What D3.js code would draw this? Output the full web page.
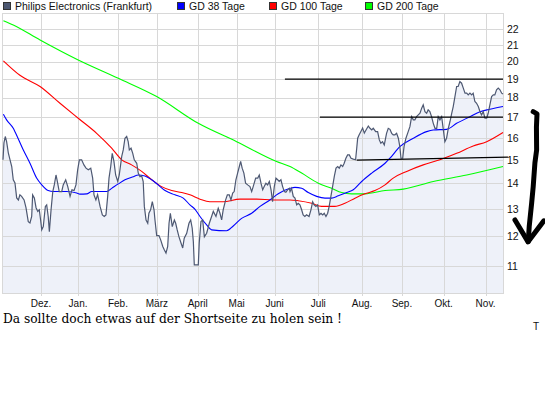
<!DOCTYPE html>
<html>
<head>
<meta charset="utf-8">
<script src="https://cdn.jsdelivr.net/npm/d3@7"></script>
<style>
  body { margin: 0; background: #fff; }
  svg { display: block; }
</style>
</head>
<body>
<div id="chart"></div>
<script>
// x axis = trading day index (0 = start of the window)
const monthDays   = [20, 39.5, 60.5, 81, 102.5, 123, 143, 166, 189, 210, 232, 254];
const monthLabels = ["Dez.", "Jan.", "Feb.", "März", "April", "Mai", "Juni", "Juli", "Aug.", "Sep.", "Okt.", "Nov."];
const yTicks      = [11, 12, 13, 14, 15, 16, 17, 18, 19, 20, 21, 22];

// Philips Electronics (Frankfurt), [day, EUR]
const price = [
  [0,15.00],[0.5,15.76],[1.2,16.06],[1.9,15.82],[2.8,15.31],[3.7,15.00],[4.6,14.71],[5.4,14.15],[6.3,14.02],[7.2,13.42],
  [8.1,13.34],[8.9,13.54],[9.8,13.48],[11.1,13.34],[12.1,13.04],[13.3,12.52],[14.2,12.47],[15.1,12.71],[15.6,13.54],[16.5,13.42],
  [17.4,13.04],[18.3,12.90],[19.1,12.96],[19.8,12.58],[20.4,12.22],[21.2,12.34],[22.3,13.09],[23,13.15],[23.8,12.71],[24.4,12.16],
  [25.3,12.96],[26.2,13.67],[27,13.94],[27.9,14.35],[28.6,14.08],[29.6,13.67],[30.9,13.67],[31.7,13.94],[33,14.15],[34.1,13.87],
  [35.3,13.48],[36.3,13.74],[37.4,13.71],[38.4,13.94],[39.3,14.57],[40.2,15.00],[41.4,15.00],[42.6,14.78],[43.7,14.64],[44.9,14.57],
  [46.2,14.64],[47.2,14.22],[47.9,13.54],[48.9,13.34],[49.8,13.55],[51.1,13.09],[52.3,12.77],[53.3,12.71],[54.2,12.77],[55.1,13.48],
  [55.8,14.22],[56.7,14.71],[57.5,15.29],[58.4,14.93],[59.3,14.35],[60.4,14.08],[61.2,14.35],[62.5,15.15],[63.3,15.44],[64.2,15.98],
  [65.1,16.06],[65.9,15.82],[66.5,15.44],[67.4,15.52],[68.3,15.29],[69.1,15.00],[70.4,14.85],[71.2,14.43],[72.1,14.28],[73,14.31],
  [73.8,14.08],[74.4,13.09],[75.3,12.58],[76.2,12.46],[76.8,12.83],[77.7,12.96],[78.6,13.27],[79.5,12.96],[80,12.58],[80.9,12.02],
  [82.1,12.02],[83,11.87],[84.1,11.64],[84.9,11.53],[85.8,11.42],[86.7,11.64],[87.4,12.46],[88.1,12.83],[89.1,12.34],[90.2,12.58],
  [90.9,12.46],[91.7,12.22],[92.6,11.98],[93.7,11.76],[94.6,11.59],[95.4,11.93],[96.7,12.10],[97.9,12.46],[98.8,12.58],[99.6,12.28],
  [100.2,11.80],[100.7,11.03],[102.8,11.03],[103.3,11.76],[104.2,12.52],[105.1,12.58],[106,11.98],[107.2,12.10],[108.6,12.46],[109.8,12.71],
  [110.7,12.90],[112.1,12.71],[113.3,13.02],[114.2,12.83],[115.1,12.58],[115.9,12.96],[117.2,13.34],[118.1,13.54],[119.1,13.54],[120,13.34],
  [120.9,13.61],[121.7,13.67],[122.6,14.15],[123.5,14.43],[124.4,14.71],[125.1,14.93],[125.9,14.64],[126.8,14.43],[127.7,14.01],[128.8,13.94],
  [130,13.87],[130.9,13.67],[131.7,13.87],[133,14.22],[134.1,14.22],[134.9,14.35],[135.8,14.01],[136.7,13.74],[137.5,13.87],[138.4,14.01],
  [139.3,13.94],[140.2,14.08],[141.1,13.74],[141.9,13.27],[142.8,13.87],[143.7,14.22],[144.6,14.15],[145.4,14.08],[146.3,14.15],[147.2,13.87],
  [148.1,13.67],[148.9,13.64],[149.8,13.74],[150.7,13.80],[151.1,13.67],[151.9,13.80],[152.8,13.48],[153.7,13.41],[154.6,13.15],[155.4,13.21],
  [156.3,13.15],[157.2,12.96],[158,12.77],[158.9,12.71],[159.8,12.77],[161.1,12.71],[162.1,12.96],[163,13.27],[163.8,13.15],[164.7,13.09],
  [165.6,13.15],[166.5,12.77],[167.4,12.83],[168.3,12.77],[169.1,12.83],[170,12.71],[170.9,12.83],[171.7,13.09],[172.6,13.48],[173.5,13.87],
  [174.4,14.29],[175.3,14.64],[176.2,14.71],[177,14.64],[177.9,14.78],[178.8,14.71],[179.6,14.85],[180.5,15.07],[181.4,15.22],[182.3,15.22],
  [183.2,15.07],[184.4,15.03],[185.6,15.00],[186.2,15.52],[186.7,15.98],[187.5,16.14],[188.4,16.30],[189.3,16.46],[190.2,16.22],[191.1,16.37],
  [192.3,16.56],[193.2,16.45],[194.1,16.37],[194.9,16.45],[196.2,16.29],[197.2,16.29],[198.1,15.90],[198.9,15.75],[199.8,15.82],[200.7,15.67],
  [201.9,16.21],[202.8,16.45],[203.7,16.40],[204.6,16.21],[205.4,16.14],[206.3,16.14],[207.2,16.21],[208.1,15.98],[208.9,15.59],[209.5,15.07],
  [210.4,15.07],[211.1,15.59],[212.1,15.98],[213.3,16.29],[214.2,16.53],[215.1,17.02],[216,16.86],[216.8,16.86],[217.7,17.02],[218.6,17.11],
  [219.5,17.19],[220.4,17.45],[221.2,17.62],[222.1,17.27],[223,17.19],[223.8,17.36],[224.7,17.27],[225.6,17.02],[226.5,16.69],[227.4,16.45],
  [228.3,16.45],[229.1,17.02],[230,16.86],[230.9,17.02],[231.7,16.45],[232.6,15.82],[233.5,15.98],[234.4,16.45],[235.3,16.78],[236.2,17.19],
  [237,17.53],[237.9,18.05],[238.8,18.59],[239.6,18.59],[240.5,18.86],[241.4,18.77],[242.3,18.50],[243.2,18.23],[244.1,18.23],[244.9,18.14],
  [245.8,18.23],[246.7,18.14],[247.5,18.23],[248.4,17.79],[249.3,17.70],[250.2,17.53],[251.1,17.27],[251.9,17.11],[252.8,17.27],[253.7,16.94],
  [254.6,16.94],[255.4,17.19],[256.3,17.62],[257.2,18.05],[258.1,18.14],[258.9,18.14],[259.8,18.41],[260.7,18.50],[261.6,18.41],[262.5,18.23],
  [263.2,18.19]
];

// moving averages, [day, EUR]
const gd38 = [
  [0.2,17.14],[1.9,16.86],[5.4,16.45],[6.3,16.29],[10.7,15.44],[14.2,14.85],[17.7,14.22],[20.4,13.94],[23.8,13.71],[26.5,13.67],
  [33.5,13.67],[38.8,13.61],[40.5,13.57],[44.1,13.58],[46.7,13.67],[51.1,13.67],[54.6,13.67],[57.2,13.80],[60.7,13.98],[64.2,14.15],
  [68.6,14.28],[71.2,14.35],[74.7,14.31],[78.3,14.15],[81.7,13.94],[85.3,13.71],[90.5,13.54],[94.9,13.41],[98.4,13.15],[101.1,12.98],
  [103.7,12.71],[107.2,12.40],[109.8,12.22],[117.7,12.19],[121.2,12.36],[125.6,12.64],[130.9,12.83],[135.3,13.09],[140.5,13.34],[144.9,13.58],
  [151.1,13.80],[153.7,13.84],[157.2,13.80],[160.7,13.63],[165.1,13.48],[169.5,13.41],[173,13.41],[176.5,13.50],[180.9,13.63],[184.4,13.74],
  [188.8,14.08],[194.1,14.43],[201.1,14.85],[203.7,15.07],[208.9,15.59],[216,15.98],[223,16.29],[226.5,16.37],[233.5,16.40],[238.8,16.69],
  [245.8,17.02],[251.1,17.27],[256.3,17.39],[263.2,17.53]
];
const gd100 = [
  [0.2,20.04],[8.9,19.21],[19.5,18.59],[30,17.70],[39.6,16.94],[49.3,16.21],[57.2,15.52],[62.5,15.00],[67.7,14.78],[73,14.50],
  [78.3,14.15],[83.5,13.87],[88.8,13.71],[94.1,13.63],[98.4,13.54],[103.7,13.37],[108.9,13.27],[115.9,13.27],[124.7,13.37],[133.5,13.37],
  [142.3,13.34],[151.1,13.34],[155.4,13.31],[162.5,13.21],[167.7,13.09],[174.7,13.09],[180,13.21],[185.3,13.41],[190.5,13.58],[195.8,13.71],
  [201.1,13.94],[205.4,14.22],[212.5,14.50],[221.2,14.78],[230,15.00],[238.8,15.29],[247.5,15.62],[254.6,15.82],[263.2,16.25]
];
const gd200 = [
  [0.2,22.54],[5.4,22.26],[19.5,21.30],[39.6,20.09],[60.7,19.04],[80.9,18.05],[102.8,16.69],[123,15.82],[144,14.93],[151.1,14.71],
  [157.2,14.43],[166,14.01],[173,13.80],[178.3,13.63],[183.5,13.58],[190.5,13.58],[201.1,13.71],[210.7,13.77],[226.5,14.08],[244.1,14.35],
  [263.2,14.71]
];

// hand drawn annotations, [day, EUR]
const resistance = [
  [[148.4,19], [263.2,19]],
  [[166.8,17], [263.2,17]],
  [[186.2,14.99], [265.8,15.12]]
];
const arrowStroke = [[279.1,17.27],[281.1,17.16],[280.8,16.51],[280.9,15.44],[280,14.87],[279.1,13.87],[278.3,13.23],[277,12.34],[276.5,11.81]];
const arrowHead   = [[269.5,12.58],[276.4,11.80],[284.7,12.55]];

const seriesNames  = ["Philips Electronics (Frankfurt)", "GD 38 Tage", "GD 100 Tage", "GD 200 Tage"];
const seriesColors = ["#4d5872", "#0000ff", "#ff0000", "#00ff00"];

const width = 545, height = 395;
const plot = {left: 3, right: 503, top: 13, bottom: 293};

const svg = d3.select("#chart").append("svg")
    .attr("width", width)
    .attr("height", height)
    .style("font-family", "'Liberation Sans', Arial, sans-serif");

const x = d3.scaleLinear().domain([0, 263.2]).range([plot.left, plot.right]);
const y = d3.scaleLog().domain([10.16, 23.05]).range([plot.bottom, plot.top]);

// area under the price
svg.append("path")
    .datum(price)
    .attr("fill", "#eef1f9")
    .attr("d", d3.area().x(d => x(d[0])).y0(plot.bottom).y1(d => y(d[1])));

// grid
svg.append("g")
  .selectAll("line")
  .data(yTicks)
  .join("line")
    .attr("x1", plot.left).attr("x2", plot.right)
    .attr("y1", d => Math.round(y(d)) + 0.5).attr("y2", d => Math.round(y(d)) + 0.5)
    .attr("stroke", "#d8d8d8");

svg.append("g")
  .selectAll("line")
  .data(monthDays)
  .join("line")
    .attr("x1", d => Math.round(x(d)) + 0.5).attr("x2", d => Math.round(x(d)) + 0.5)
    .attr("y1", plot.top).attr("y2", plot.bottom + 3)
    .attr("stroke", "#d8d8d8");

// frame
svg.append("rect")
    .attr("x", plot.left - 0.5).attr("y", plot.top + 0.5)
    .attr("width", plot.right - plot.left + 1).attr("height", plot.bottom - plot.top)
    .attr("fill", "none")
    .attr("stroke", "#d8d8d8");

// axis labels
svg.append("g")
  .selectAll("text")
  .data(monthDays)
  .join("text")
    .attr("x", d => x(d))
    .attr("y", 307)
    .attr("text-anchor", "middle")
    .attr("font-size", 10)
    .attr("fill", "#111")
    .text((d, i) => monthLabels[i]);

svg.append("g")
  .selectAll("text")
  .data(yTicks)
  .join("text")
    .attr("x", 507)
    .attr("y", d => y(d) + 3.8)
    .attr("font-size", 10.5)
    .attr("fill", "#111")
    .text(d => d);

// lines
const line = d3.line().x(d => x(d[0])).y(d => y(d[1]));

[gd200, gd100, gd38].forEach((s, i) => {
  svg.append("path")
      .datum(s)
      .attr("fill", "none")
      .attr("stroke", seriesColors[3 - i])
      .attr("stroke-width", 1.1)
      .attr("d", line.curve(d3.curveMonotoneX));
});

svg.append("path")
    .datum(price)
    .attr("fill", "none")
    .attr("stroke", seriesColors[0])
    .attr("stroke-width", 1.2)
    .attr("d", line.curve(d3.curveLinear));

// trend lines
svg.append("g")
  .selectAll("path")
  .data(resistance)
  .join("path")
    .attr("fill", "none")
    .attr("stroke", "#000")
    .attr("stroke-width", 1.2)
    .attr("d", line);

// the freehand arrow
[arrowStroke, arrowHead].forEach(pts => {
  svg.append("path")
      .datum(pts)
      .attr("fill", "none")
      .attr("stroke", "#000")
      .attr("stroke-width", 5)
      .attr("stroke-linecap", "round")
      .attr("stroke-linejoin", "round")
      .attr("d", line);
});

// legend
const legendX = [3, 177, 269, 365];
const legend = svg.append("g")
  .selectAll("g")
  .data(seriesNames)
  .join("g")
    .attr("transform", (d, i) => `translate(${legendX[i]},0)`);

legend.append("rect")
    .attr("x", 0.5).attr("y", 2.5)
    .attr("width", 7).attr("height", 7)
    .attr("fill", (d, i) => seriesColors[i])
    .attr("stroke", "#333");

legend.append("text")
    .attr("x", 12)
    .attr("y", 10)
    .attr("font-size", 10.5)
    .attr("fill", "#111")
    .text(d => d);

// comment under the chart
svg.append("text")
    .attr("x", 3)
    .attr("y", 323)
    .attr("font-family", "'DejaVu Serif', serif")
    .attr("font-size", 12.5)
    .attr("textLength", 339)
    .attr("lengthAdjust", "spacingAndGlyphs")
    .attr("fill", "#000")
    .text("Da sollte doch etwas auf der Shortseite zu holen sein !");

svg.append("text")
    .attr("x", 533)
    .attr("y", 330)
    .attr("font-size", 10)
    .attr("fill", "#111")
    .text("T");
</script>
</body>
</html>
